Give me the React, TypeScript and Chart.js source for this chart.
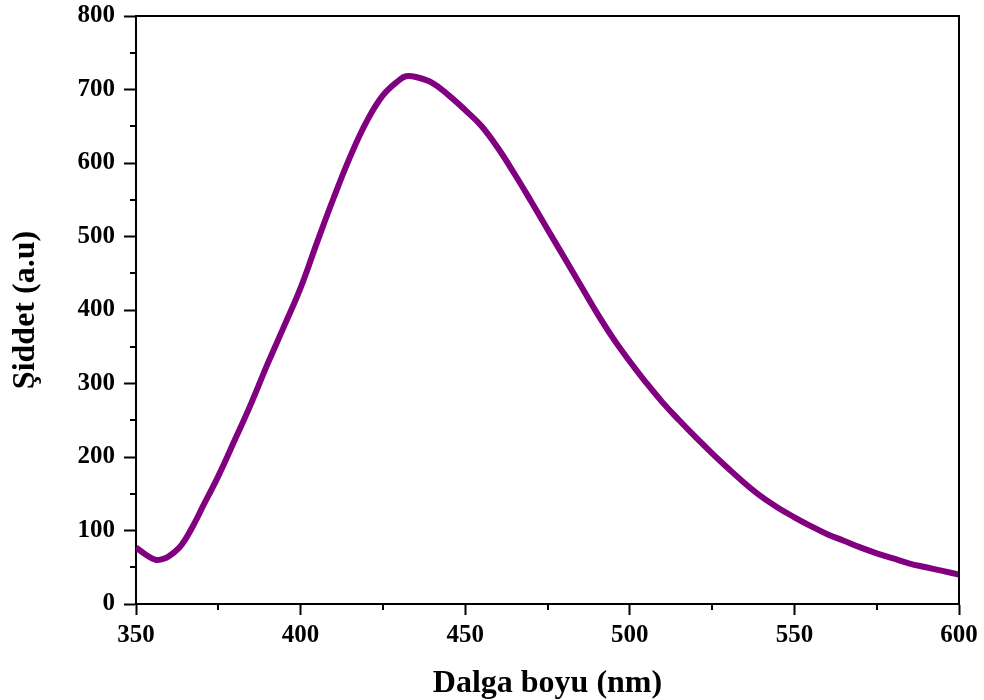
import React, { useEffect, useRef } from "react";
import { Chart, registerables } from "chart.js";

Chart.register(...registerables);

const wavelengths = [350, 353, 356, 358, 360, 363, 365, 368, 370, 375, 380, 385, 390, 395, 400, 405, 410, 415, 420, 425, 430, 432, 435, 440, 445, 450, 455, 460, 465, 470, 475, 480, 485, 490, 495, 500, 505, 510, 515, 520, 525, 530, 535, 540, 545, 550, 555, 560, 565, 570, 575, 580, 585, 590, 595, 600];
const intensity = [77, 67, 60, 61, 65, 76, 88, 112, 130, 174, 223, 273, 327, 378, 430, 492, 552, 608, 656, 692, 713, 718, 717, 709, 692, 672, 650, 620, 585, 548, 510, 472, 434, 396, 361, 330, 301, 274, 250, 227, 205, 184, 164, 146, 131, 118, 106, 95, 86, 77, 69, 62, 55, 50, 45, 40];

const xMinorTicks = [375, 425, 475, 525, 575];
const yMinorTicks = [50, 150, 250, 350, 450, 550, 650, 750];

const xTitle = "Dalga boyu (nm)";
const yTitle = "Şiddet (a.u)";

const FONT = "'Liberation Serif', 'Times New Roman', serif";

const framePlugin = {
  id: "frameAndMinor",
  afterDraw(chart: any) {
    const { ctx, chartArea } = chart;
    const xs = chart.scales.x;
    const ys = chart.scales.y;
    ctx.save();
    ctx.strokeStyle = "#000";
    ctx.lineWidth = 2;
    ctx.beginPath();
    ctx.moveTo(chartArea.left, chartArea.top);
    ctx.lineTo(chartArea.right, chartArea.top);
    ctx.lineTo(chartArea.right, chartArea.bottom);
    ctx.stroke();
    ctx.beginPath();
    for (const v of xMinorTicks) {
      const px = Math.round(xs.getPixelForValue(v));
      ctx.moveTo(px, chartArea.bottom);
      ctx.lineTo(px, chartArea.bottom + 6);
    }
    for (const v of yMinorTicks) {
      const py = Math.round(ys.getPixelForValue(v));
      ctx.moveTo(chartArea.left, py);
      ctx.lineTo(chartArea.left - 6, py);
    }
    ctx.stroke();
    ctx.restore();
  },
};

export default function App() {
  const ref = useRef<HTMLCanvasElement | null>(null);
  useEffect(() => {
    document.body.style.margin = "0";
    if (!ref.current) return;
    const chart = new Chart(ref.current, {
      type: "line",
      data: {
        datasets: [
          {
            data: wavelengths.map((w, i) => ({ x: w, y: intensity[i] })),
            borderColor: "#800080",
            borderWidth: 6,
            pointRadius: 0,
            tension: 0.4,
            fill: false,
          },
        ],
      },
      options: {
        animation: false,
        responsive: false,
        layout: { padding: { left: 0, right: 25, top: 16, bottom: 0 } },
        plugins: { legend: { display: false }, tooltip: { enabled: false } },
        scales: {
          x: {
            type: "linear",
            min: 350,
            max: 600,
            afterFit: (s: any) => {
              s.height = 96;
              s.paddingLeft = 0;
              s.paddingRight = 0;
            },
            ticks: {
              stepSize: 50,
              color: "#000",
              padding: 6,
              maxRotation: 0,
              font: { family: FONT, size: 25, weight: "bold" },
            },
            grid: {
              drawOnChartArea: false,
              drawTicks: true,
              tickLength: 11,
              tickColor: "#000",
              tickWidth: 2,
            },
            border: { display: true, color: "#000", width: 2 },
            title: {
              display: true,
              text: xTitle,
              color: "#000",
              padding: { top: 0, bottom: 0 },
              font: { family: FONT, size: 32, weight: "bold", lineHeight: 1 },
            },
          },
          y: {
            type: "linear",
            min: 0,
            max: 800,
            afterFit: (s: any) => {
              s.width = 136;
              s.paddingTop = 0;
              s.paddingBottom = 0;
            },
            ticks: {
              stepSize: 100,
              color: "#000",
              padding: 9,
              font: { family: FONT, size: 25, weight: "bold" },
            },
            grid: {
              drawOnChartArea: false,
              drawTicks: true,
              tickLength: 12,
              tickColor: "#000",
              tickWidth: 2,
            },
            border: { display: true, color: "#000", width: 2 },
            title: {
              display: true,
              text: yTitle,
              color: "#000",
              padding: { top: 8, bottom: 0 },
              font: { family: FONT, size: 32, weight: "bold", lineHeight: 1.1 },
            },
          },
        },
      },
      plugins: [framePlugin],
    } as any);
    return () => chart.destroy();
  }, []);
  return (
    <div style={{ width: 984, height: 700, background: "#fff" }}>
      <canvas ref={ref} width={984} height={700} />
    </div>
  );
}
